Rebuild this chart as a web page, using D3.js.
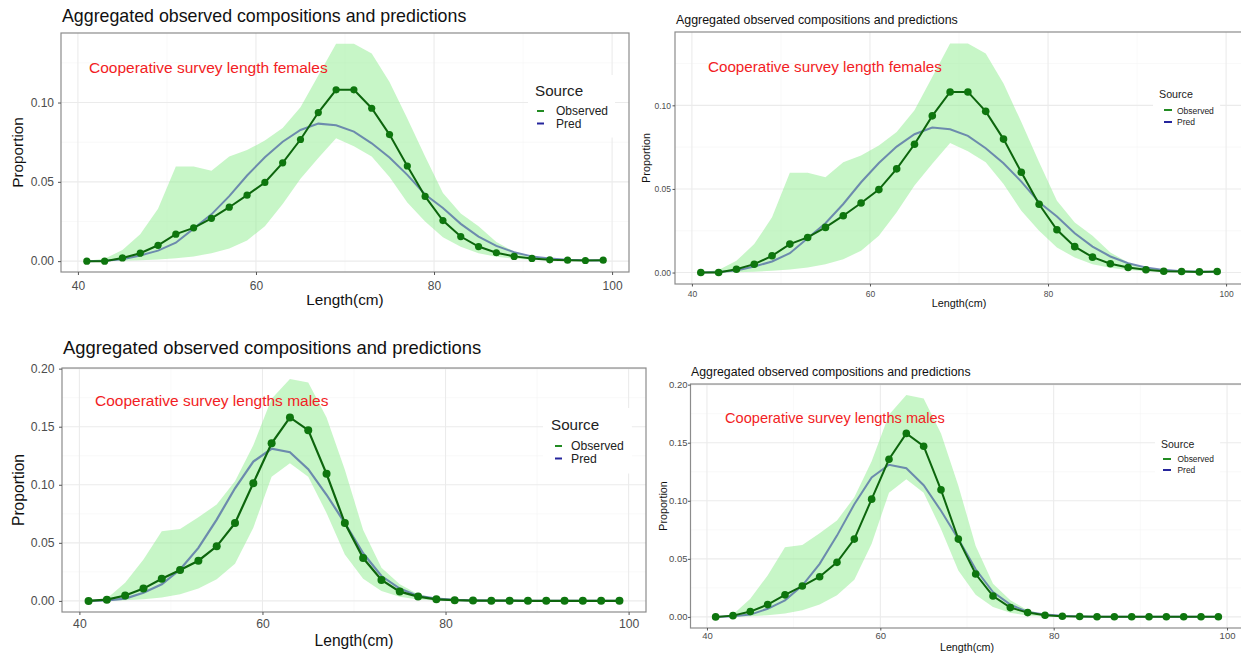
<!DOCTYPE html>
<html>
<head>
<meta charset="utf-8">
<script src="https://cdn.jsdelivr.net/npm/d3@7"></script>
<style>
  body { margin: 0; background: #fff; }
  svg { display: block; font-family: "Liberation Sans", Arial, sans-serif; }
  .grid-major { stroke: #ebebeb; stroke-width: 1.1; }
  .grid-minor { stroke: #f5f5f5; stroke-width: 0.6; }
  .frame { fill: none; stroke: #8c8c8c; stroke-width: 1.2; }
  .axis .domain { display: none; }
  .axis .tick line { stroke: #555; }
  .axis .tick text { fill: #4d4d4d; }
</style>
</head>
<body>
<div id="chart"></div>
<script>
// length bins (cm)
var lengths = [41, 43, 45, 47, 49, 51, 53, 55, 57, 59, 61, 63, 65, 67, 69,
  71, 73, 75, 77, 79, 81, 83, 85, 87, 89, 91, 93, 95, 97, 99];

// females
var femObs = [0.000, 0.000, 0.002, 0.005, 0.010, 0.017, 0.021, 0.027, 0.034, 0.0416,
  0.0496, 0.062, 0.0767, 0.0937, 0.108, 0.108, 0.0964, 0.0798, 0.060, 0.0408,
  0.0256, 0.0155, 0.0092, 0.0053, 0.003, 0.0017, 0.0008, 0.0006, 0.0004, 0.0006];
var femPred = [0.0000, 0.0003, 0.0012, 0.0036, 0.0066, 0.0116, 0.0205, 0.0295, 0.041, 0.054,
  0.0655, 0.0753, 0.0827, 0.0867, 0.0857, 0.0817, 0.0743, 0.0653, 0.0544, 0.042,
  0.0335, 0.0235, 0.0155, 0.0096, 0.0056, 0.003, 0.0016, 0.0008, 0.0006, 0.0004];
var femLo = [0.0000, 0.0000, 0.0002, 0.0005, 0.001, 0.0018, 0.003, 0.005, 0.008, 0.013,
  0.022, 0.036, 0.052, 0.065, 0.0775, 0.0725, 0.066, 0.053, 0.037, 0.025,
  0.015, 0.009, 0.005, 0.0028, 0.0015, 0.0008, 0.0004, 0.0002, 0.0002, 0.0002];
var femHi = [0.0002, 0.0015, 0.007, 0.017, 0.033, 0.0597, 0.0597, 0.057, 0.066, 0.070,
  0.076, 0.084, 0.097, 0.117, 0.137, 0.137, 0.131, 0.113, 0.090, 0.066,
  0.043, 0.030, 0.022, 0.012, 0.006, 0.0032, 0.0018, 0.0012, 0.0009, 0.0009];

// males
var maleObs = [0.000, 0.0011, 0.0046, 0.0106, 0.019, 0.0266, 0.0346, 0.047, 0.067, 0.1014,
  0.1357, 0.158, 0.147, 0.1094, 0.067, 0.0369, 0.018, 0.008, 0.0037, 0.0014,
  0.0006, 0.0003, 0.0002, 0.0002, 0.0001, 0.0001, 0.0001, 0.0001, 0.0001, 0.0001];
var malePred = [0.000, 0.0005, 0.002, 0.007, 0.0143, 0.027, 0.0457, 0.070, 0.097, 0.120,
  0.131, 0.128, 0.1134, 0.0914, 0.067, 0.041, 0.0214, 0.0106, 0.0043, 0.002,
  0.0009, 0.0004, 0.0002, 0.0002, 0.0001, 0.0001, 0.0001, 0.0001, 0.0001, 0.0001];
var maleLo = [0.000, 0.000, 0.0005, 0.0015, 0.003, 0.0057, 0.0106, 0.0186, 0.032, 0.063,
  0.107, 0.1186, 0.107, 0.0757, 0.040, 0.019, 0.0086, 0.0035, 0.0012, 0.0004,
  0.0001, 0.0001, 0.0001, 0.0001, 0.0001, 0.0001, 0.0001, 0.0001, 0.0001, 0.0001];
var maleHi = [0.000, 0.002, 0.0157, 0.0357, 0.060, 0.062, 0.072, 0.083, 0.103, 0.134,
  0.174, 0.191, 0.188, 0.158, 0.113, 0.061, 0.0286, 0.0143, 0.0057, 0.002,
  0.001, 0.0005, 0.0004, 0.0003, 0.0003, 0.0003, 0.0003, 0.0003, 0.0003, 0.0003];

// ticks
var xTicks = [40, 60, 80, 100];
var xMinor = [50, 70, 90];
var femYTicks = [0, 0.05, 0.10];
var femYMinor = [0.025, 0.075, 0.125];
var maleYTicks = [0, 0.05, 0.10, 0.15, 0.20];
var maleYMinor = [0.025, 0.075, 0.125, 0.175];

var plotTitle = 'Aggregated observed compositions and predictions';
var legendTitle = 'Source';
var legendItems = ['Observed', 'Pred'];

var svg = d3.select('#chart').append('svg')
  .attr('width', 1241)
  .attr('height', 658);

function drawPanel(cfg) {
  var rows = lengths.map(function (d, i) {
    return { len: d, obs: cfg.obs[i], pred: cfg.pred[i], lo: cfg.lo[i], hi: cfg.hi[i] };
  });

  // ggplot style 5% expansion
  var xr = d3.extent(lengths), xp = (xr[1] - xr[0]) * 0.05;
  var yMax = d3.max(cfg.hi), yMin = d3.min(cfg.lo), yp = (yMax - yMin) * 0.05;

  var x = d3.scaleLinear()
    .domain([xr[0] - xp, xr[1] + xp])
    .range([cfg.left, cfg.right]);

  var y = d3.scaleLinear()
    .domain([yMin - yp, yMax + yp])
    .range([cfg.bottom, cfg.top]);

  var g = svg.append('g');

  //grid lines
  g.selectAll('.gxm').data(xMinor).enter().append('line')
    .attr('class', 'grid-minor')
    .attr('x1', x).attr('x2', x)
    .attr('y1', cfg.top).attr('y2', cfg.bottom);
  g.selectAll('.gym').data(cfg.yMinor).enter().append('line')
    .attr('class', 'grid-minor')
    .attr('x1', cfg.left).attr('x2', cfg.right)
    .attr('y1', y).attr('y2', y);
  g.selectAll('.gx').data(xTicks).enter().append('line')
    .attr('class', 'grid-major')
    .attr('x1', x).attr('x2', x)
    .attr('y1', cfg.top).attr('y2', cfg.bottom);
  g.selectAll('.gy').data(cfg.yTicks).enter().append('line')
    .attr('class', 'grid-major')
    .attr('x1', cfg.left).attr('x2', cfg.right)
    .attr('y1', y).attr('y2', y);

  //confidence band
  g.append('path')
    .datum(rows)
    .attr('fill', '#90ee90')
    .attr('fill-opacity', 0.5)
    .attr('d', d3.area()
      .x(function (d) { return x(d.len); })
      .y0(function (d) { return y(d.lo); })
      .y1(function (d) { return y(d.hi); }));

  //predicted
  g.append('path')
    .datum(rows)
    .attr('fill', 'none')
    .attr('stroke', '#34489c')
    .attr('stroke-opacity', 0.62)
    .attr('stroke-width', cfg.lw)
    .attr('d', d3.line()
      .x(function (d) { return x(d.len); })
      .y(function (d) { return y(d.pred); }));

  //observed
  g.append('path')
    .datum(rows)
    .attr('fill', 'none')
    .attr('stroke', '#0d650d')
    .attr('stroke-width', cfg.lw)
    .attr('d', d3.line()
      .x(function (d) { return x(d.len); })
      .y(function (d) { return y(d.obs); }));

  g.selectAll('.pt').data(rows).enter().append('circle')
    .attr('cx', function (d) { return x(d.len); })
    .attr('cy', function (d) { return y(d.obs); })
    .attr('r', cfg.r)
    .attr('fill', '#0e760e');

  g.append('rect')
    .attr('class', 'frame')
    .attr('x', cfg.left).attr('y', cfg.top)
    .attr('width', cfg.right - cfg.left)
    .attr('height', cfg.bottom - cfg.top);

  //axes
  var xa = g.append('g')
    .attr('class', 'axis')
    .attr('transform', 'translate(0,' + cfg.bottom + ')')
    .call(d3.axisBottom(x).tickValues(xTicks).tickSize(cfg.tick));
  xa.selectAll('text')
    .attr('y', cfg.xTickY - cfg.bottom)
    .attr('dy', null)
    .style('font-size', cfg.tickFont + 'px');

  var ya = g.append('g')
    .attr('class', 'axis')
    .attr('transform', 'translate(' + cfg.left + ',0)')
    .call(d3.axisLeft(y).tickValues(cfg.yTicks).tickSize(cfg.tick)
      .tickFormat(d3.format('.2f')));
  ya.selectAll('text')
    .attr('x', cfg.yTickX - cfg.left)
    .style('font-size', cfg.tickFont + 'px');

  g.append('text')
    .attr('x', (cfg.left + cfg.right) / 2)
    .attr('y', cfg.xTitleY)
    .attr('text-anchor', 'middle')
    .style('font-size', cfg.axisFont + 'px')
    .attr('fill', '#111')
    .text('Length(cm)');

  g.append('text')
    .attr('transform', 'translate(' + cfg.yTitleX + ',' + (cfg.top + cfg.bottom) / 2 + ') rotate(-90)')
    .attr('dy', '0.35em')
    .attr('text-anchor', 'middle')
    .style('font-size', cfg.axisFont + 'px')
    .attr('fill', '#111')
    .text('Proportion');

  //titles
  g.append('text')
    .attr('x', cfg.titleX).attr('y', cfg.titleY)
    .style('font-size', cfg.titleFont + 'px')
    .attr('fill', '#111')
    .text(plotTitle);

  g.append('text')
    .attr('x', cfg.annoX).attr('y', cfg.annoY)
    .style('font-size', cfg.annoFont + 'px')
    .attr('fill', '#f21d24')
    .text(cfg.anno);

  //legend
  var lg = g.append('g');
  var bg = lg.append('rect').attr('fill', '#fff');
  lg.append('text')
    .attr('x', cfg.legX).attr('y', cfg.legTitleY)
    .style('font-size', cfg.legTitleFont + 'px')
    .attr('fill', '#222')
    .text(legendTitle);
  var keyColors = ['#228b22', '#25259c'];
  legendItems.forEach(function (name, i) {
    lg.append('line')
      .attr('x1', cfg.keyX[0]).attr('x2', cfg.keyX[1])
      .attr('y1', cfg.keyY[i]).attr('y2', cfg.keyY[i])
      .attr('stroke', keyColors[i])
      .attr('stroke-width', 2);
    lg.append('text')
      .attr('x', cfg.legTextX).attr('y', cfg.legItemY[i])
      .style('font-size', cfg.legItemFont + 'px')
      .attr('fill', '#222')
      .text(name);
  });
  var bb = lg.node().getBBox();
  bg.attr('x', bb.x - cfg.legPad).attr('y', bb.y - cfg.legPad)
    .attr('width', bb.width + 2 * cfg.legPad)
    .attr('height', bb.height + 2 * cfg.legPad);
}

drawPanel({
  obs: femObs, pred: femPred, lo: femLo, hi: femHi,
  yTicks: femYTicks, yMinor: femYMinor,
  left: 61, top: 33, right: 629, bottom: 272,
  r: 3.6, lw: 2, tick: 3,
  tickFont: 12, xTickY: 290, yTickX: 54,
  axisFont: 15.3, xTitleY: 305, yTitleX: 18,
  titleFont: 17.8, titleX: 62, titleY: 22,
  anno: 'Cooperative survey length females', annoFont: 15.5, annoX: 89, annoY: 73,
  legX: 535, legTitleY: 96, legTitleFont: 15.2,
  legTextX: 556, legItemY: [115, 127.5], legItemFont: 12,
  keyX: [537, 544], keyY: [111, 123.5], legPad: 7
});

drawPanel({
  obs: femObs, pred: femPred, lo: femLo, hi: femHi,
  yTicks: femYTicks, yMinor: femYMinor,
  left: 675, top: 32, right: 1243, bottom: 284,
  r: 3.8, lw: 2, tick: 2.5,
  tickFont: 8.5, xTickY: 297, yTickX: 671,
  axisFont: 10.8, xTitleY: 307, yTitleX: 646.5,
  titleFont: 12.4, titleX: 676, titleY: 24,
  anno: 'Cooperative survey length females', annoFont: 15.2, annoX: 708, annoY: 72,
  legX: 1159, legTitleY: 98, legTitleFont: 10.7,
  legTextX: 1177, legItemY: [114, 125], legItemFont: 8.5,
  keyX: [1164, 1172], keyY: [110, 122], legPad: 6
});

drawPanel({
  obs: maleObs, pred: malePred, lo: maleLo, hi: maleHi,
  yTicks: maleYTicks, yMinor: maleYMinor,
  left: 62, top: 368, right: 646, bottom: 612,
  r: 4, lw: 2.2, tick: 3,
  tickFont: 12.2, xTickY: 628, yTickX: 54.5,
  axisFont: 15.6, xTitleY: 646, yTitleX: 18.5,
  titleFont: 18.4, titleX: 63, titleY: 354,
  anno: 'Cooperative survey lengths males', annoFont: 15.5, annoX: 95, annoY: 406,
  legX: 551, legTitleY: 430, legTitleFont: 15.2,
  legTextX: 571, legItemY: [450, 462.5], legItemFont: 12.2,
  keyX: [555, 562], keyY: [446, 458.5], legPad: 8
});

drawPanel({
  obs: maleObs, pred: malePred, lo: maleLo, hi: maleHi,
  yTicks: maleYTicks, yMinor: maleYMinor,
  left: 690.5, top: 384, right: 1243.5, bottom: 628,
  r: 3.8, lw: 2, tick: 2.5,
  tickFont: 9.5, xTickY: 639, yTickX: 687.5,
  axisFont: 10.7, xTitleY: 651, yTitleX: 663,
  titleFont: 12.3, titleX: 691, titleY: 376,
  anno: 'Cooperative survey lengths males', annoFont: 14.6, annoX: 725, annoY: 423,
  legX: 1161, legTitleY: 448, legTitleFont: 10.5,
  legTextX: 1177.5, legItemY: [462, 473], legItemFont: 8.4,
  keyX: [1163, 1171], keyY: [459, 470], legPad: 6
});
</script>
</body>
</html>
